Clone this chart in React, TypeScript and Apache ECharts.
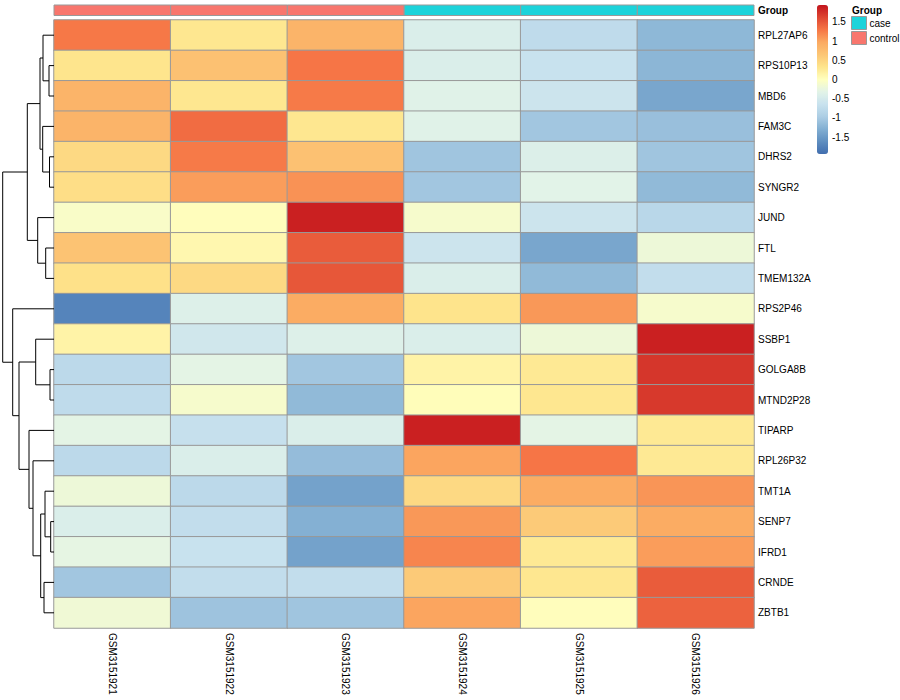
import React, { useEffect, useRef } from 'react';
import * as echarts from 'echarts';

const SAMPLES = ['GSM3151921', 'GSM3151922', 'GSM3151923', 'GSM3151924', 'GSM3151925', 'GSM3151926'];
const SAMPLE_GROUPS = ['control', 'control', 'control', 'case', 'case', 'case'];
const GROUP_NAMES = ['case', 'control'];
const GROUP_COLORS = ['#1CD3DA', '#F8766D'];

const GENES = [
  'RPL27AP6', 'RPS10P13', 'MBD6', 'FAM3C', 'DHRS2', 'SYNGR2', 'JUND', 'FTL', 'TMEM132A', 'RPS2P46',
  'SSBP1', 'GOLGA8B', 'MTND2P28', 'TIPARP', 'RPL26P32', 'TMT1A', 'SENP7', 'IFRD1', 'CRNDE', 'ZBTB1',
];

// z-scores per gene, columns in SAMPLES order
const EXPR: number[][] = [
  [1.28, 0.3, 0.85, -0.42, -0.75, -1.2],
  [0.32, 0.7, 1.3, -0.42, -0.65, -1.22],
  [0.85, 0.3, 1.27, -0.35, -0.6, -1.38],
  [0.85, 1.36, 0.3, -0.35, -1.05, -1.12],
  [0.45, 1.27, 0.7, -1.06, -0.4, -1.06],
  [0.4, 1.05, 1.12, -1.05, -0.32, -1.18],
  [-0.07, 0.02, 1.86, -0.1, -0.6, -0.82],
  [0.68, 0.1, 1.47, -0.6, -1.38, -0.2],
  [0.37, 0.45, 1.5, -0.42, -1.18, -0.72],
  [-1.72, -0.38, 0.95, 0.33, 1.08, -0.1],
  [0.15, -0.55, -0.38, -0.42, -0.2, 1.86],
  [-0.78, -0.3, -1.05, 0.15, 0.27, 1.72],
  [-0.75, -0.1, -1.18, 0.03, 0.3, 1.7],
  [-0.3, -0.67, -0.42, 1.86, -0.3, 0.27],
  [-0.78, -0.42, -1.15, 1.0, 1.3, 0.27],
  [-0.2, -0.78, -1.42, 0.45, 0.95, 1.1],
  [-0.42, -0.72, -1.28, 1.08, 0.6, 0.95],
  [-0.28, -0.65, -1.42, 1.2, 0.27, 1.05],
  [-1.05, -0.72, -0.72, 0.6, 0.3, 1.47],
  [-0.17, -1.08, -1.06, 1.0, 0.02, 1.43],
];

// hclust-style merges: negative = leaf row index -(r+1), positive = earlier merge (1-based); [a, b, height]
const ROW_MERGES: [number, number, number][] = [
  [-2, -3, 5],
  [-1, 1, 11],
  [-5, -6, 4.5],
  [-4, 3, 11.3],
  [2, 4, 14],
  [-8, -9, 8.3],
  [-7, 6, 16.3],
  [5, 7, 26.7],
  [-12, -13, 4],
  [-11, 9, 18.3],
  [-17, -18, 3.3],
  [-16, 11, 9],
  [-19, -20, 10],
  [12, 13, 13.3],
  [-15, 14, 21],
  [-14, 15, 25],
  [10, 16, 35],
  [-10, 17, 41.3],
  [8, 18, 51.3],
];

const COLOR_MIN = -1.94;
const COLOR_MAX = 1.94;
const PALETTE = [
  '#416EAF', '#5F8EC0', '#82AFD2', '#ACCDE4', '#C8E2EE', '#E2F3E8', '#FFFFBF',
  '#FEE58C', '#FCC675', '#FBAA62', '#F67646', '#DE4632', '#C3141C',
];

const FONT = 'Liberation Sans, Arial, Helvetica, sans-serif';

export default function App() {
  const ref = useRef<HTMLDivElement>(null);

  useEffect(() => {
    document.body.style.margin = '0';
    const chart = echarts.init(ref.current!, null, { renderer: 'svg' });

    const heatData: [number, number, number][] = [];
    EXPR.forEach((row, r) => row.forEach((v, c) => heatData.push([c, r, v])));

    // dendrogram segments
    const nodeY: number[] = [];
    const pos = (id: number) => (id < 0 ? -id - 1 + 0.5 : nodeY[id - 1]);
    const ht = (id: number) => (id < 0 ? 0 : ROW_MERGES[id - 1][2]);
    const segs: any[] = [];
    ROW_MERGES.forEach(([a, b, h], i) => {
      const ya = pos(a);
      const yb = pos(b);
      nodeY[i] = (ya + yb) / 2;
      segs.push({ coords: [[ht(a), ya], [h, ya], [h, yb], [ht(b), yb]] });
    });

    const annotSeries = GROUP_NAMES.map((g, gi) => ({
      type: 'custom',
      name: g,
      xAxisIndex: 2,
      yAxisIndex: 2,
      itemStyle: { color: GROUP_COLORS[gi] },
      data: SAMPLE_GROUPS.map((sg, c) => (sg === g ? [c, 0] : null)).filter((d) => d !== null),
      renderItem: (params: any, api: any) => {
        const p = api.coord([api.value(0), api.value(1)]);
        const s = api.size([1, 1]);
        return {
          type: 'rect',
          shape: { x: p[0] - s[0] / 2, y: p[1] - s[1] / 2, width: s[0], height: s[1] },
          style: { fill: GROUP_COLORS[gi], stroke: '#999', lineWidth: 1 },
        };
      },
      silent: true,
    }));

    const option: any = {
      animation: false,
      textStyle: { fontFamily: FONT },
      grid: [
        { left: 54, right: 146, top: 20, bottom: 72 },
        { left: 0, width: 54, top: 20, bottom: 72 },
        { left: 54, right: 146, top: 5, height: 10.5 },
        { left: 817, width: 11, top: 5, height: 149 },
      ],
      xAxis: [
        {
          type: 'category',
          gridIndex: 0,
          data: SAMPLES,
          position: 'bottom',
          axisLine: { show: false },
          axisTick: { show: false },
          axisLabel: { rotate: -90, fontSize: 10, color: '#000', margin: 5, fontFamily: FONT, interval: 0 },
          splitLine: { show: false },
        },
        { type: 'value', gridIndex: 1, min: 0, max: 54, inverse: true, show: false },
        { type: 'category', gridIndex: 2, data: SAMPLES, show: false },
        { type: 'value', gridIndex: 3, min: 0, max: 1, show: false },
      ],
      yAxis: [
        {
          type: 'category',
          gridIndex: 0,
          data: GENES,
          inverse: true,
          position: 'right',
          axisLine: { show: false },
          axisTick: { show: false },
          axisLabel: { fontSize: 10, color: '#000', margin: 4, fontFamily: FONT, interval: 0 },
          splitLine: { show: false },
        },
        { type: 'value', gridIndex: 1, min: 0, max: 20, inverse: true, show: false },
        {
          type: 'category',
          gridIndex: 2,
          data: ['Group'],
          position: 'right',
          axisLine: { show: false },
          axisTick: { show: false },
          axisLabel: { fontSize: 10, color: '#000', fontWeight: 'bold', margin: 4, fontFamily: FONT },
        },
        {
          type: 'value',
          gridIndex: 3,
          min: COLOR_MIN,
          max: COLOR_MAX,
          position: 'right',
          axisLine: { show: false },
          axisTick: { show: false },
          splitLine: { show: false },
          splitNumber: 8,
          axisLabel: {
            fontSize: 10,
            color: '#000',
            margin: 4,
            fontFamily: FONT,
            showMinLabel: false,
            showMaxLabel: false,
            formatter: (v: number) => (Math.abs(v * 2 - Math.round(v * 2)) < 1e-6 ? String(Math.round(v * 2) / 2) : ''),
          },
        },
      ],
      visualMap: [
        {
          type: 'continuous',
          seriesIndex: 0,
          min: COLOR_MIN,
          max: COLOR_MAX,
          calculable: false,
          orient: 'vertical',
          left: 817,
          top: 5,
          itemWidth: 11,
          itemHeight: 149,
          padding: 0,
          inRange: { color: PALETTE },
          hoverLink: false,
        },
      ],
      legend: {
        data: GROUP_NAMES,
        orient: 'vertical',
        left: 851,
        top: 16,
        padding: 0,
        itemWidth: 15,
        itemHeight: 13,
        itemGap: 1,
        icon: 'rect',
        selectedMode: false,
        itemStyle: { borderColor: '#999', borderWidth: 1 },
        textStyle: { fontSize: 10, color: '#000', fontFamily: FONT, padding: [0, 0, 0, -2] },
      },
      graphic: [
        {
          type: 'text',
          left: 852,
          top: 5,
          style: { text: 'Group', font: `bold 10px ${FONT}`, fill: '#000' },
        },
      ],
      series: [
        {
          type: 'heatmap',
          xAxisIndex: 0,
          yAxisIndex: 0,
          data: heatData,
          itemStyle: { borderColor: '#999', borderWidth: 1 },
          emphasis: { disabled: true },
          silent: true,
        },
        {
          type: 'lines',
          coordinateSystem: 'cartesian2d',
          xAxisIndex: 1,
          yAxisIndex: 1,
          polyline: true,
          data: segs,
          lineStyle: { color: '#000', width: 1, opacity: 1 },
          silent: true,
        },
        ...annotSeries,
      ],
    };

    chart.setOption(option);
    return () => chart.dispose();
  }, []);

  return <div ref={ref} style={{ width: 900, height: 700 }} />;
}
